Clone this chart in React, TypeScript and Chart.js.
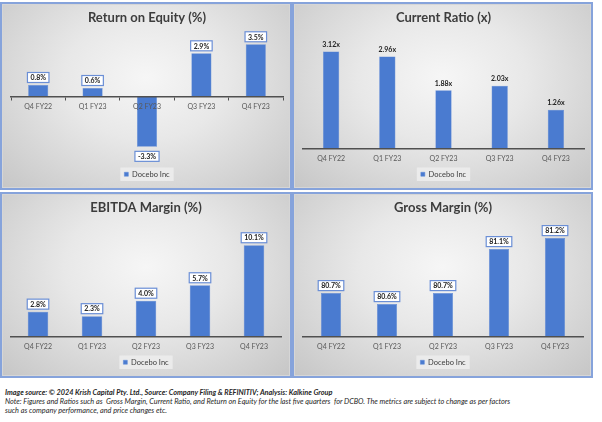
import React, { useEffect, useRef } from "react";
import { Chart, registerables } from "chart.js";

Chart.register(...registerables);

const quarters = ["Q4 FY22", "Q1 FY23", "Q2 FY23", "Q3 FY23", "Q4 FY23"];
const seriesName = "Docebo Inc";
const roeValues = [0.8, 0.6, -3.3, 2.9, 3.5];
const currentRatioValues = [3.12, 2.96, 1.88, 2.03, 1.26];
const ebitdaValues = [2.8, 2.3, 4.0, 5.7, 10.1];
const grossMarginValues = [80.7, 80.6, 80.7, 81.1, 81.2];

const FONT = "Lato";
const BAR = "#4a7bd0";

const pct = (v: number) => v.toFixed(1) + "%";
const times = (v: number) => v.toFixed(2) + "x";

type PanelProps = {
  left: number;
  top: number;
  width: number;
  height: number;
  title: string;
  values: number[];
  format: (v: number) => string;
  boxed: boolean;
  yMin: number;
  yMax: number;
  axisAtZero?: boolean;
  tickMarks?: boolean;
  barPct: number;
  padLeft: number;
  padRight: number;
};

function Panel(p: PanelProps) {
  const ref = useRef<HTMLCanvasElement>(null);
  const cw = p.width - 4;
  const ch = p.height - 4;

  useEffect(() => {
    if (!ref.current) return;
    const valueLabels = {
      id: "valueLabels",
      afterDatasetsDraw(chart: any) {
        const ctx = chart.ctx;
        const meta = chart.getDatasetMeta(0);
        const data = chart.data.datasets[0].data as number[];
        ctx.save();
        ctx.font = `bold 7px ${FONT}`;
        ctx.textAlign = "center";
        ctx.textBaseline = "middle";
        meta.data.forEach((el: any, i: number) => {
          const v = data[i];
          const text = p.format(v);
          const neg = v < 0;
          const cy = neg ? el.y + 9.5 : el.y - 7.5;
          if (p.boxed) {
            const w = ctx.measureText(text).width + 6;
            const h = 10;
            ctx.fillStyle = "#ffffff";
            ctx.fillRect(el.x - w / 2, cy - h / 2, w, h);
            ctx.strokeStyle = "#6b8fd6";
            ctx.lineWidth = 1.2;
            ctx.strokeRect(el.x - w / 2, cy - h / 2, w, h);
          }
          ctx.fillStyle = "#1c1c1c";
          ctx.fillText(text, el.x, cy + 0.5);
        });
        ctx.restore();
      },
    };
    const legendBg = {
      id: "legendBg",
      beforeDraw(chart: any) {
        const lg = chart.legend;
        if (!lg || !lg.legendHitBoxes || !lg.legendHitBoxes.length) return;
        const hb = lg.legendHitBoxes[0];
        const ctx = chart.ctx;
        ctx.save();
        ctx.fillStyle = "rgba(236,236,236,0.9)";
        ctx.fillRect(hb.left - 4, hb.top - 3, hb.width + 8, hb.height + 6);
        ctx.restore();
      },
    };
    const chart = new Chart(ref.current, {
      type: "bar",
      data: {
        labels: quarters,
        datasets: [
          {
            label: seriesName,
            data: p.values,
            backgroundColor: BAR,
            borderColor: "#5d88d6",
            borderWidth: 0.5,
            barPercentage: p.barPct,
            categoryPercentage: 1,
          },
        ],
      },
      options: {
        animation: false,
        responsive: false,
        devicePixelRatio: 1,
        layout: { padding: { left: p.padLeft, right: p.padRight, top: 0, bottom: 0 } },
        plugins: {
          title: {
            display: true,
            text: p.title,
            color: "#3d3d3d",
            font: { family: FONT, size: 13, weight: "bold" },
            padding: { top: 6, bottom: 6 },
          },
          legend: {
            position: "bottom",
            labels: {
              boxWidth: 4,
              boxHeight: 4,
              color: "#3d3d3d",
              font: { family: FONT, size: 7.5 },
              padding: 6,
            },
          },
          tooltip: { enabled: false },
        },
        scales: {
          x: {
            position: p.axisAtZero ? ({ y: 0 } as any) : "bottom",
            grid: {
              display: true,
              drawOnChartArea: false,
              drawTicks: true,
              tickLength: 3,
              color: p.tickMarks ? "#505050" : "rgba(0,0,0,0)",
              offset: true,
              z: 1,
            },
            border: { display: true, color: "#505050", width: 1.5, z: 1 },
            ticks: {
              color: "#595959",
              font: { family: FONT, size: 7 },
              padding: 2,
              maxRotation: 0,
              z: 1,
            },
          },
          y: { display: false, min: p.yMin, max: p.yMax },
        },
      },
      plugins: [valueLabels, legendBg],
    });
    return () => chart.destroy();
  }, []);

  return (
    <div
      style={{
        position: "absolute",
        left: p.left,
        top: p.top,
        width: p.width,
        height: p.height,
        boxSizing: "border-box",
        border: "2px solid #86a3db",
        boxShadow: "inset 0 0 0 1px #d6d6d6",
        background:
          "radial-gradient(ellipse at 50% 40%, #f6f6f6 0%, #e8e8e8 40%, #c6c6c6 100%)",
      }}
    >
      <canvas ref={ref} width={cw} height={ch} style={{ display: "block", width: cw, height: ch }} />
    </div>
  );
}

export default function App() {
  return (
    <div
      style={{
        position: "absolute",
        left: 0,
        top: 0,
        width: 602,
        height: 422,
        background: "#ffffff",
        overflow: "hidden",
      }}
    >
      <Panel
        left={0}
        top={2}
        width={292}
        height={188}
        title="Return on Equity (%)"
        values={roeValues}
        format={pct}
        boxed={true}
        yMin={-4.47}
        yMax={4.34}
        axisAtZero={true}
        tickMarks={true}
        barPct={0.37}
        padLeft={9}
        padRight={7}
      />
      <Panel
        left={292}
        top={2}
        width={301}
        height={188}
        title="Current Ratio (x)"
        values={currentRatioValues}
        format={times}
        boxed={false}
        yMin={0}
        yMax={3.76}
        barPct={0.29}
        padLeft={9}
        padRight={7}
      />
      <Panel
        left={0}
        top={192}
        width={292}
        height={186}
        title="EBITDA Margin (%)"
        values={ebitdaValues}
        format={pct}
        boxed={true}
        yMin={0}
        yMax={12.7}
        barPct={0.38}
        padLeft={9}
        padRight={9}
      />
      <Panel
        left={292}
        top={192}
        width={301}
        height={186}
        title="Gross Margin (%)"
        values={grossMarginValues}
        format={pct}
        boxed={true}
        yMin={80.3}
        yMax={81.35}
        barPct={0.36}
        padLeft={9}
        padRight={8}
      />
      <div
        style={{
          position: "absolute",
          left: 5,
          top: 388,
          fontFamily: FONT,
          fontStyle: "italic",
          fontSize: 7.3,
          lineHeight: "9px",
          color: "#262626",
          whiteSpace: "nowrap",
        }}
      >
        <div style={{ fontWeight: "bold" }}>
          Image source: © 2024 Krish Capital Pty. Ltd., Source: Company Filing &amp; REFINITIV; Analysis: Kalkine Group
        </div>
        <div>
          Note: Figures and Ratios such as&nbsp; Gross Margin, Current Ratio, and Return on Equity for the last five quarters&nbsp; for DCBO. The metrics are subject to change as per factors
        </div>
        <div>such as company performance, and price changes etc.</div>
      </div>
    </div>
  );
}
